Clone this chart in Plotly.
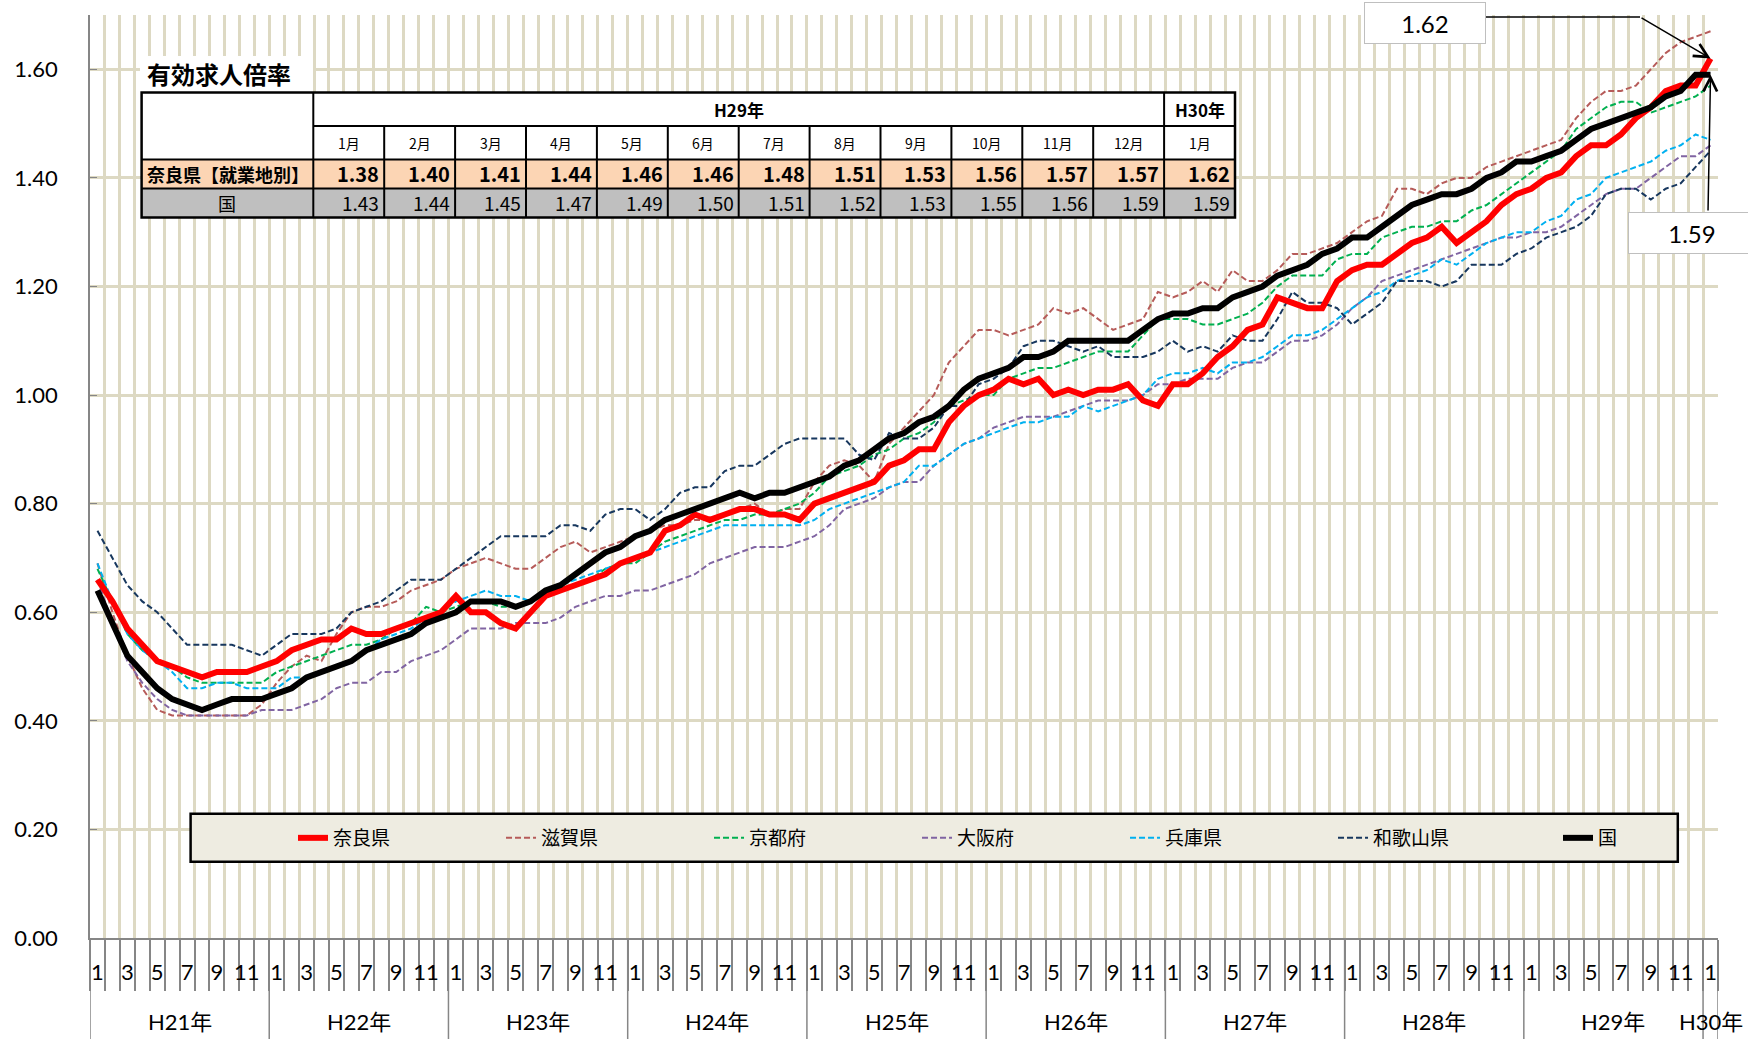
import plotly.graph_objects as go

# 有効求人倍率の推移（H21年1月〜H30年1月、月次）

years = ["H21年", "H22年", "H23年", "H24年", "H25年", "H26年", "H27年", "H28年", "H29年", "H30年"]
months = [m for y in years for m in range(1, 13)][:109]

nara = [0.66, 0.62, 0.57, 0.54, 0.51, 0.50, 0.49, 0.48, 0.49, 0.49, 0.49, 0.50,
        0.51, 0.53, 0.54, 0.55, 0.55, 0.57, 0.56, 0.56, 0.57, 0.58, 0.59, 0.60,
        0.63, 0.60, 0.60, 0.58, 0.57, 0.60, 0.63, 0.64, 0.65, 0.66, 0.67, 0.69,
        0.70, 0.71, 0.75, 0.76, 0.78, 0.77, 0.78, 0.79, 0.79, 0.78, 0.78, 0.77,
        0.80, 0.81, 0.82, 0.83, 0.84, 0.87, 0.88, 0.90, 0.90, 0.95, 0.98, 1.00,
        1.01, 1.03, 1.02, 1.03, 1.00, 1.01, 1.00, 1.01, 1.01, 1.02, 0.99, 0.98,
        1.02, 1.02, 1.04, 1.07, 1.09, 1.12, 1.13, 1.18, 1.17, 1.16, 1.16, 1.21,
        1.23, 1.24, 1.24, 1.26, 1.28, 1.29, 1.31, 1.28, 1.30, 1.32, 1.35, 1.37,
        1.38, 1.40, 1.41, 1.44, 1.46, 1.46, 1.48, 1.51, 1.53, 1.56, 1.57, 1.57,
        1.62]

shiga = [0.69, 0.60, 0.52, 0.46, 0.42, 0.41, 0.41, 0.41, 0.41, 0.41, 0.41, 0.43,
         0.47, 0.50, 0.52, 0.51, 0.56, 0.60, 0.61, 0.61, 0.62, 0.64, 0.65, 0.66,
         0.68, 0.69, 0.70, 0.69, 0.68, 0.68, 0.70, 0.72, 0.73, 0.71, 0.72, 0.73,
         0.74, 0.75, 0.76, 0.76, 0.77, 0.77, 0.78, 0.79, 0.80, 0.78, 0.79, 0.79,
         0.84, 0.87, 0.88, 0.87, 0.84, 0.91, 0.94, 0.97, 1.00, 1.06, 1.09, 1.12,
         1.12, 1.11, 1.12, 1.13, 1.16, 1.15, 1.16, 1.14, 1.12, 1.13, 1.14, 1.19,
         1.18, 1.19, 1.21, 1.19, 1.23, 1.21, 1.21, 1.23, 1.26, 1.26, 1.27, 1.28,
         1.30, 1.32, 1.33, 1.38, 1.38, 1.37, 1.39, 1.40, 1.40, 1.42, 1.43, 1.44,
         1.45, 1.46, 1.47, 1.51, 1.54, 1.56, 1.56, 1.57, 1.60, 1.63, 1.65, 1.66,
         1.67]

kyoto = [0.68, 0.62, 0.56, 0.53, 0.51, 0.50, 0.48, 0.47, 0.47, 0.47, 0.47, 0.47,
         0.49, 0.50, 0.51, 0.52, 0.53, 0.54, 0.54, 0.55, 0.57, 0.58, 0.61, 0.60,
         0.61, 0.62, 0.62, 0.61, 0.61, 0.62, 0.63, 0.64, 0.65, 0.66, 0.68, 0.69,
         0.69, 0.71, 0.73, 0.74, 0.75, 0.76, 0.77, 0.77, 0.78, 0.78, 0.79, 0.80,
         0.82, 0.85, 0.86, 0.87, 0.89, 0.90, 0.92, 0.93, 0.95, 0.98, 0.99, 1.00,
         1.00, 1.03, 1.04, 1.05, 1.05, 1.06, 1.07, 1.08, 1.08, 1.08, 1.11, 1.14,
         1.14, 1.14, 1.13, 1.13, 1.14, 1.15, 1.17, 1.20, 1.22, 1.22, 1.22, 1.25,
         1.26, 1.26, 1.29, 1.30, 1.31, 1.31, 1.32, 1.32, 1.34, 1.35, 1.37, 1.39,
         1.41, 1.43, 1.45, 1.49, 1.51, 1.53, 1.54, 1.54, 1.52, 1.53, 1.54, 1.55,
         1.57]

osaka = [0.66, 0.58, 0.51, 0.47, 0.44, 0.42, 0.41, 0.41, 0.41, 0.41, 0.41, 0.42,
         0.42, 0.42, 0.43, 0.44, 0.46, 0.47, 0.47, 0.49, 0.49, 0.51, 0.52, 0.53,
         0.55, 0.57, 0.57, 0.57, 0.58, 0.58, 0.58, 0.59, 0.61, 0.62, 0.63, 0.63,
         0.64, 0.64, 0.65, 0.66, 0.67, 0.69, 0.70, 0.71, 0.72, 0.72, 0.72, 0.73,
         0.74, 0.76, 0.79, 0.80, 0.81, 0.83, 0.84, 0.84, 0.87, 0.89, 0.91, 0.92,
         0.94, 0.95, 0.96, 0.96, 0.96, 0.97, 0.98, 0.99, 0.99, 0.99, 1.00, 1.02,
         1.02, 1.03, 1.03, 1.03, 1.05, 1.06, 1.06, 1.08, 1.10, 1.10, 1.11, 1.13,
         1.16, 1.18, 1.21, 1.22, 1.23, 1.24, 1.25, 1.26, 1.27, 1.28, 1.29, 1.29,
         1.30, 1.30, 1.31, 1.33, 1.35, 1.37, 1.38, 1.38, 1.40, 1.42, 1.44, 1.44,
         1.46]

hyogo = [0.69, 0.62, 0.56, 0.53, 0.51, 0.49, 0.46, 0.46, 0.47, 0.47, 0.46, 0.46,
         0.46, 0.48, 0.48, 0.49, 0.50, 0.51, 0.53, 0.55, 0.56, 0.57, 0.59, 0.60,
         0.62, 0.63, 0.64, 0.63, 0.63, 0.62, 0.64, 0.65, 0.66, 0.67, 0.68, 0.69,
         0.70, 0.71, 0.72, 0.73, 0.74, 0.75, 0.76, 0.76, 0.76, 0.76, 0.76, 0.76,
         0.77, 0.79, 0.80, 0.81, 0.82, 0.83, 0.84, 0.87, 0.87, 0.89, 0.91, 0.92,
         0.93, 0.94, 0.95, 0.95, 0.96, 0.96, 0.98, 0.97, 0.98, 0.99, 1.00, 1.03,
         1.04, 1.04, 1.05, 1.04, 1.06, 1.06, 1.07, 1.09, 1.11, 1.11, 1.12, 1.14,
         1.16, 1.18, 1.19, 1.21, 1.22, 1.23, 1.25, 1.24, 1.26, 1.28, 1.29, 1.30,
         1.30, 1.32, 1.33, 1.36, 1.37, 1.40, 1.41, 1.42, 1.43, 1.45, 1.46, 1.48,
         1.47]

wakayama = [0.75, 0.70, 0.65, 0.62, 0.60, 0.57, 0.54, 0.54, 0.54, 0.54, 0.53, 0.52,
            0.54, 0.56, 0.56, 0.56, 0.57, 0.60, 0.61, 0.62, 0.64, 0.66, 0.66, 0.66,
            0.68, 0.70, 0.72, 0.74, 0.74, 0.74, 0.74, 0.76, 0.76, 0.75, 0.78, 0.79,
            0.79, 0.77, 0.79, 0.82, 0.83, 0.83, 0.86, 0.87, 0.87, 0.89, 0.91, 0.92,
            0.92, 0.92, 0.92, 0.89, 0.88, 0.93, 0.92, 0.92, 0.94, 0.98, 0.98, 1.02,
            1.03, 1.05, 1.09, 1.10, 1.10, 1.09, 1.08, 1.09, 1.07, 1.07, 1.07, 1.08,
            1.10, 1.08, 1.09, 1.08, 1.11, 1.10, 1.10, 1.14, 1.19, 1.17, 1.17, 1.16,
            1.13, 1.15, 1.17, 1.21, 1.21, 1.21, 1.20, 1.21, 1.24, 1.24, 1.24, 1.26,
            1.27, 1.29, 1.30, 1.31, 1.33, 1.37, 1.38, 1.38, 1.36, 1.38, 1.39, 1.42,
            1.45]

kuni = [0.64, 0.58, 0.52, 0.49, 0.46, 0.44, 0.43, 0.42, 0.43, 0.44, 0.44, 0.44,
        0.45, 0.46, 0.48, 0.49, 0.50, 0.51, 0.53, 0.54, 0.55, 0.56, 0.58, 0.59,
        0.60, 0.62, 0.62, 0.62, 0.61, 0.62, 0.64, 0.65, 0.67, 0.69, 0.71, 0.72,
        0.74, 0.75, 0.77, 0.78, 0.79, 0.80, 0.81, 0.82, 0.81, 0.82, 0.82, 0.83,
        0.84, 0.85, 0.87, 0.88, 0.90, 0.92, 0.93, 0.95, 0.96, 0.98, 1.01, 1.03,
        1.04, 1.05, 1.07, 1.07, 1.08, 1.10, 1.10, 1.10, 1.10, 1.10, 1.12, 1.14,
        1.15, 1.15, 1.16, 1.16, 1.18, 1.19, 1.20, 1.22, 1.23, 1.24, 1.26, 1.27,
        1.29, 1.29, 1.31, 1.33, 1.35, 1.36, 1.37, 1.37, 1.38, 1.40, 1.41, 1.43,
        1.43, 1.44, 1.45, 1.47, 1.49, 1.50, 1.51, 1.52, 1.53, 1.55, 1.56, 1.59,
        1.59]

# 表（直近13か月）
tbl_header = ["H29年", "H30年"]
tbl_months = ["1月", "2月", "3月", "4月", "5月", "6月", "7月", "8月", "9月", "10月", "11月", "12月", "1月"]
tbl_rows = ["奈良県【就業地別】", "国"]
tbl_nara = nara[-13:]
tbl_kuni = kuni[-13:]

x = list(range(len(months)))

GRID = "#DDD9C3"
AXIS = "#868686"
NUMFONT = "Lato, 'Noto Sans CJK JP', sans-serif"
JPFONT = "'Noto Sans CJK JP', sans-serif"

# プロット領域（ピクセル）
L, R, T, B = 90, 30, 15, 101
W, H = 1748, 1039
PW, PH = W - L - R, H - T - B


def px(xp):
    return (xp - L) / PW


def py(yp):
    return (H - B - yp) / PH


def txt(xp, yp, s, size, xa="center", fam=JPFONT):
    return dict(xref="paper", yref="paper", x=px(xp), y=py(yp), text=s, showarrow=False,
                xanchor=xa, yanchor="middle", font=dict(family=fam, size=size, color="#000"))


series = [
    ("滋賀県", shiga, "#B65B59", 2, "6px,3px", 2, "legend"),
    ("京都府", kyoto, "#00B050", 2, "6px,3px", 3, "legend"),
    ("大阪府", osaka, "#8064A2", 2, "6px,3px", 4, "legend"),
    ("兵庫県", hyogo, "#00B0F0", 2, "6px,3px", 5, "legend"),
    ("和歌山県", wakayama, "#17375E", 2, "6px,3px", 6, "legend"),
    ("奈良県", nara, "#FF0000", 6, "solid", 1, "legend"),
    ("国", kuni, "#000000", 6, "solid", 7, "legend2"),
]

fig = go.Figure()
for name, ys, col, wd, dash, rank, lg in series:
    fig.add_trace(go.Scatter(x=x, y=ys, name=name, mode="lines", legendrank=rank, legend=lg,
                             line=dict(color=col, width=wd, dash=dash)))

tickvals = [i for i in x if months[i] % 2 == 1]
fig.update_xaxes(range=[-0.5, len(x) - 0.5], showgrid=False, zeroline=False,
                 showline=True, linecolor=AXIS, linewidth=1.5,
                 tickmode="array", tickvals=tickvals,
                 ticktext=[str(months[i]) for i in tickvals],
                 ticks="", ticklabelstandoff=14,
                 tickfont=dict(family=NUMFONT, size=22, color="#000"),
                 minor=dict(tick0=-0.5, dtick=1, ticks="outside", ticklen=51,
                            tickcolor=AXIS, tickwidth=1.5,
                            showgrid=True, gridcolor=GRID, gridwidth=2.5))
fig.update_yaxes(range=[0, 1.7], dtick=0.2, tick0=0, tickformat=".2f",
                 showgrid=True, gridcolor=GRID, gridwidth=3, zeroline=False,
                 showline=True, linecolor=AXIS, linewidth=1.5,
                 ticks="inside", ticklen=7, tickcolor=AXIS, ticklabelstandoff=26,
                 tickfont=dict(family=NUMFONT, size=22, color="#000"))

shapes = []
annos = []

# 年の区切り線と年ラベル
for k in range(len(years)):
    xs = k * 12 - 0.5
    shapes.append(dict(type="line", xref="x", yref="paper", x0=xs, x1=xs, y0=0, y1=py(H),
                       line=dict(color=AXIS, width=1.5)))
    last = min(k * 12 + 11, len(x) - 1)
    annos.append(dict(xref="x", yref="paper", x=(k * 12 + last) / 2, y=py(1022),
                      text=years[k], showarrow=False, xanchor="center", yanchor="middle",
                      font=dict(family=NUMFONT, size=22, color="#000")))
shapes.append(dict(type="line", xref="x", yref="paper", x0=len(x) - 0.5, x1=len(x) - 0.5,
                   y0=0, y1=py(H), line=dict(color=AXIS, width=1.5)))

# 凡例の枠
shapes.append(dict(type="rect", xref="paper", yref="paper", x0=px(190.6), x1=px(1677.8),
                   y0=py(861.8), y1=py(813.8), fillcolor="#EEECE1",
                   line=dict(color="black", width=2.5), layer="above"))

# タイトル
shapes.append(dict(type="rect", xref="paper", yref="paper", x0=px(140), x1=px(313),
                   y0=py(92), y1=py(56), fillcolor="white", line=dict(width=0), layer="above"))
annos.append(txt(145, 74, "<b>有効求人倍率</b>", 24, xa="left"))

# 表
col_w = 70.9
xe = [141.6, 313.3] + [313.3 + col_w * (k + 1) for k in range(13)]
ye = [92.5, 126, 159.4, 188.4, 217.4]
fills = ["white", "white", "#FCD5B4", "#BFBFBF"]
for r in range(4):
    shapes.append(dict(type="rect", xref="paper", yref="paper", x0=px(xe[0]), x1=px(xe[-1]),
                       y0=py(ye[r + 1]), y1=py(ye[r]), fillcolor=fills[r],
                       line=dict(width=0), layer="above"))
lk = dict(color="black", width=2)
for yy in ye[2:4]:
    shapes.append(dict(type="line", xref="paper", yref="paper", x0=px(xe[0]), x1=px(xe[-1]),
                       y0=py(yy), y1=py(yy), line=lk, layer="above"))
shapes.append(dict(type="line", xref="paper", yref="paper", x0=px(xe[1]), x1=px(xe[-1]),
                   y0=py(ye[1]), y1=py(ye[1]), line=lk, layer="above"))
for i, xx in enumerate(xe[1:-1]):
    top = ye[0] if i in (0, 12) else ye[1]
    shapes.append(dict(type="line", xref="paper", yref="paper", x0=px(xx), x1=px(xx),
                       y0=py(ye[-1]), y1=py(top), line=lk, layer="above"))
shapes.append(dict(type="rect", xref="paper", yref="paper", x0=px(xe[0]), x1=px(xe[-1]),
                   y0=py(ye[-1]), y1=py(ye[0]), line=dict(color="black", width=2.5),
                   layer="above"))

annos.append(txt((xe[1] + xe[13]) / 2, (ye[0] + ye[1]) / 2, "<b>" + tbl_header[0] + "</b>", 17))
annos.append(txt((xe[13] + xe[14]) / 2, (ye[0] + ye[1]) / 2, "<b>" + tbl_header[1] + "</b>", 17))
annos.append(txt(xe[0] + 3, (ye[2] + ye[3]) / 2, "<b>" + tbl_rows[0] + "</b>", 18, xa="left"))
annos.append(txt((xe[0] + xe[1]) / 2, (ye[3] + ye[4]) / 2, tbl_rows[1], 18))
for k in range(13):
    cx = (xe[k + 1] + xe[k + 2]) / 2
    annos.append(txt(cx, (ye[1] + ye[2]) / 2, tbl_months[k], 14))
    annos.append(txt(xe[k + 2] - 3, (ye[2] + ye[3]) / 2, "<b>%.2f</b>" % tbl_nara[k], 20, xa="right"))
    annos.append(txt(xe[k + 2] - 3, (ye[3] + ye[4]) / 2, "%.2f" % tbl_kuni[k], 19, xa="right"))

# 最新値の吹き出し
box = dict(bgcolor="white", bordercolor="#BFBFBF", borderwidth=1, height=38)
annos.append(dict(txt(1425, 23, "%.2f" % nara[-1], 24, fam=NUMFONT), width=118, **box))
shapes.append(dict(type="line", xref="paper", yref="paper", x0=px(1486), x1=px(1640),
                   y0=py(17), y1=py(17), line=dict(color="black", width=1.5), layer="above"))
hx = L + (x[-1] + 0.5) * PW / len(x)
annos.append(dict(x=x[-1], y=nara[-1], xref="x", yref="y", text="", showarrow=True,
                  ax=1640 - hx, ay=17 - (H - B - nara[-1] * PH / 1.7),
                  arrowhead=5, arrowsize=1.8, arrowwidth=1.5, arrowcolor="black", standoff=0))
annos.append(dict(txt(1692, 233, "%.2f" % kuni[-1], 24, fam=NUMFONT), width=124, **box))
annos.append(dict(x=x[-1], y=kuni[-1], xref="x", yref="y", text="", showarrow=True,
                  ax=1708 - hx, ay=212 - (H - B - kuni[-1] * PH / 1.7),
                  arrowhead=5, arrowsize=1.8, arrowwidth=1.5, arrowcolor="black", standoff=0))

leg = dict(orientation="h", xanchor="left", yanchor="middle", y=py(838),
           bgcolor="rgba(0,0,0,0)", borderwidth=0,
           title=dict(text="\u3000\u3000", side="left", font=dict(size=19)),
           font=dict(family=JPFONT, size=19, color="#000"))

fig.update_layout(
    width=W, height=H, margin=dict(l=L, r=R, t=T, b=B, autoexpand=False),
    plot_bgcolor="white", paper_bgcolor="white",
    shapes=shapes, annotations=annos,
    legend=dict(leg, x=px(245), entrywidth=163, entrywidthmode="pixels"),
    legend2=dict(leg, x=px(1510), entrywidth=30, entrywidthmode="pixels"),
)

fig.write_html("out.html", config={"displayModeBar": False},
               post_script="document.body.style.margin='0';")
